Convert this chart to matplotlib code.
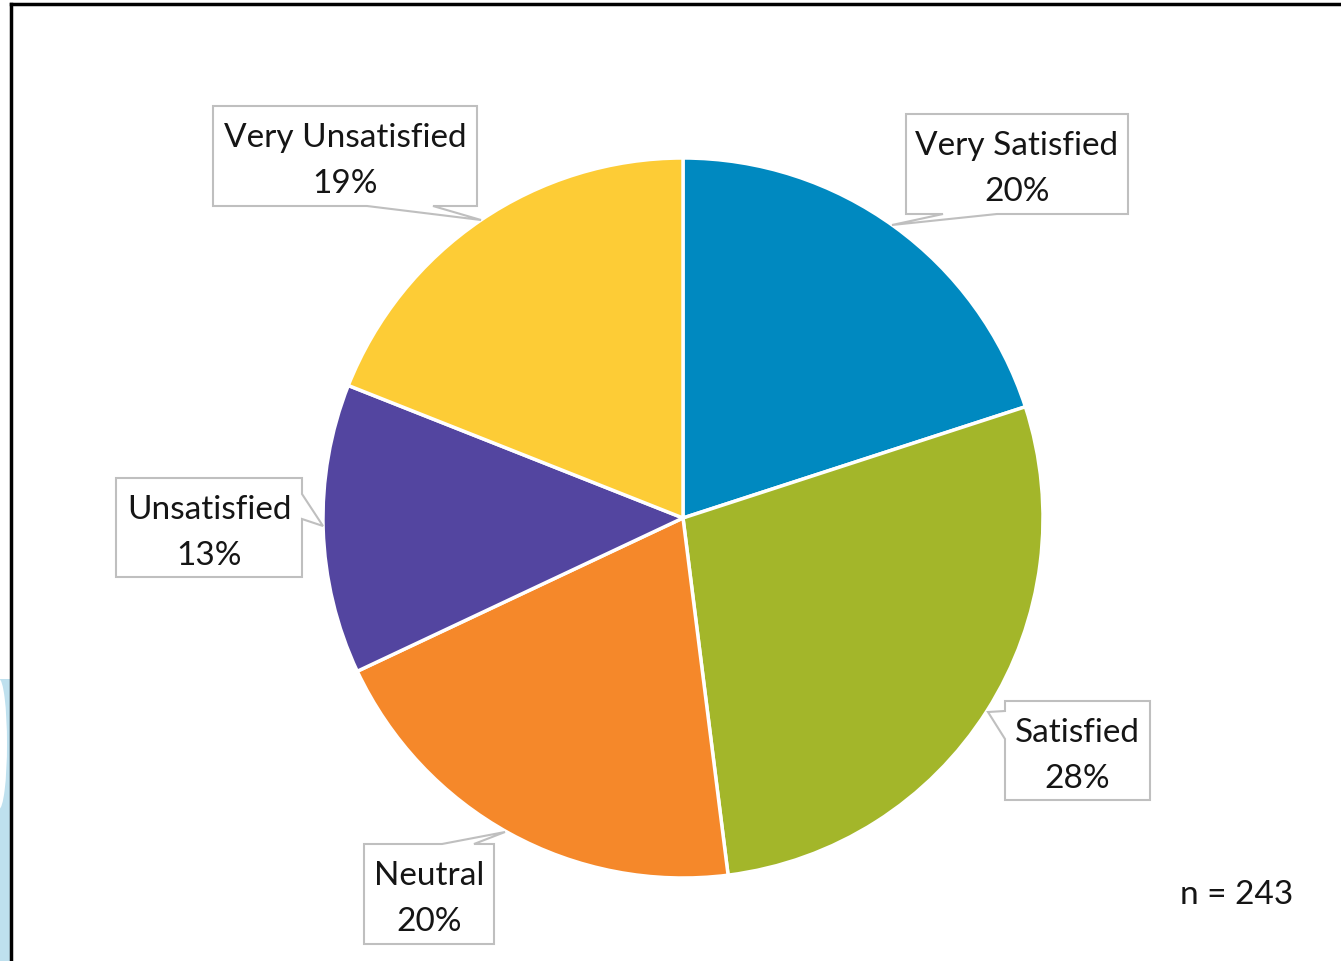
import matplotlib.pyplot as plt
from matplotlib.patches import Polygon, Ellipse, Rectangle
import numpy as np

labels = ["Very Satisfied", "Satisfied", "Neutral", "Unsatisfied", "Very Unsatisfied"]
values = [20, 28, 20, 13, 19]
colors = ["#0089C0", "#A3B62A", "#F5882A", "#5345A0", "#FDCC36"]
n_total = 243

W, H = 1341, 962
plt.rcParams['font.family'] = ['Lato', 'DejaVu Sans']

fig = plt.figure(figsize=(W / 100, H / 100), dpi=100)
ax = fig.add_axes([0, 0, 1, 1])

def Y(py):
    return H - py

ax.pie(values, colors=colors, startangle=90, counterclock=False,
       center=(683, Y(519)), radius=360,
       wedgeprops=dict(edgecolor='white', linewidth=2.5))
ax.set_xlim(0, W)
ax.set_ylim(0, H)
ax.set_aspect('equal')
ax.axis('off')

# callout boxes: (x0, x1, y0, y1), side of pointer, base points, tip
callouts = {
    "Very Satisfied": ((906, 1128, 115, 215), 'bottom', (943, 997), (892, 226)),
    "Satisfied": ((1005, 1150, 702, 801), 'left', (712, 740), (988, 713)),
    "Neutral": ((364, 494, 845, 945), 'top', (442, 474), (505, 833)),
    "Unsatisfied": ((116, 302, 479, 578), 'right', (495, 520), (323, 527)),
    "Very Unsatisfied": ((213, 477, 107, 207), 'bottom', (367, 433), (481, 221)),
}

def callout_path(box, side, base, tip):
    x0, x1, y0, y1 = box
    b1, b2 = base
    pts = [(x0, y0)]
    if side == 'top':
        pts += [(b1, y0), tip, (b2, y0)]
    pts += [(x1, y0)]
    if side == 'right':
        pts += [(x1, b1), tip, (x1, b2)]
    pts += [(x1, y1)]
    if side == 'bottom':
        pts += [(b2, y1), tip, (b1, y1)]
    pts += [(x0, y1)]
    if side == 'left':
        pts += [(x0, b2), tip, (x0, b1)]
    return [(px, Y(py)) for px, py in pts]

for lab, val in zip(labels, values):
    box, side, base, tip = callouts[lab]
    poly = Polygon(callout_path(box, side, base, tip), closed=True,
                   facecolor='white', edgecolor='#BFBFBF', linewidth=1.5, zorder=5)
    ax.add_patch(poly)
    cx = (box[0] + box[1]) / 2
    ax.text(cx, Y(box[2] + 40), lab, ha='center', va='baseline',
            fontsize=24, color='#151515', zorder=6)
    ax.text(cx, Y(box[2] + 86), f"{val}%", ha='center', va='baseline',
            fontsize=24, color='#151515', zorder=6)

ax.text(1180, Y(904), f"n = {n_total}", ha='left', va='baseline',
        fontsize=24, color='#151515')

# light blue decoration at bottom left
ax.add_patch(Rectangle((0, 0), 10.5, Y(680), facecolor='#BEE0EE', edgecolor='none', zorder=1))
ax.add_patch(Ellipse((-1, Y(745)), 16, 130, facecolor='white', edgecolor='none', zorder=2))

# frame lines
ax.plot([11, 11], [0, Y(5)], color='black', linewidth=2.5, solid_capstyle='projecting', zorder=7)
ax.plot([11, W], [Y(5), Y(5)], color='black', linewidth=2.5, solid_capstyle='projecting', zorder=7)

fig.savefig("out.png", dpi=100)
